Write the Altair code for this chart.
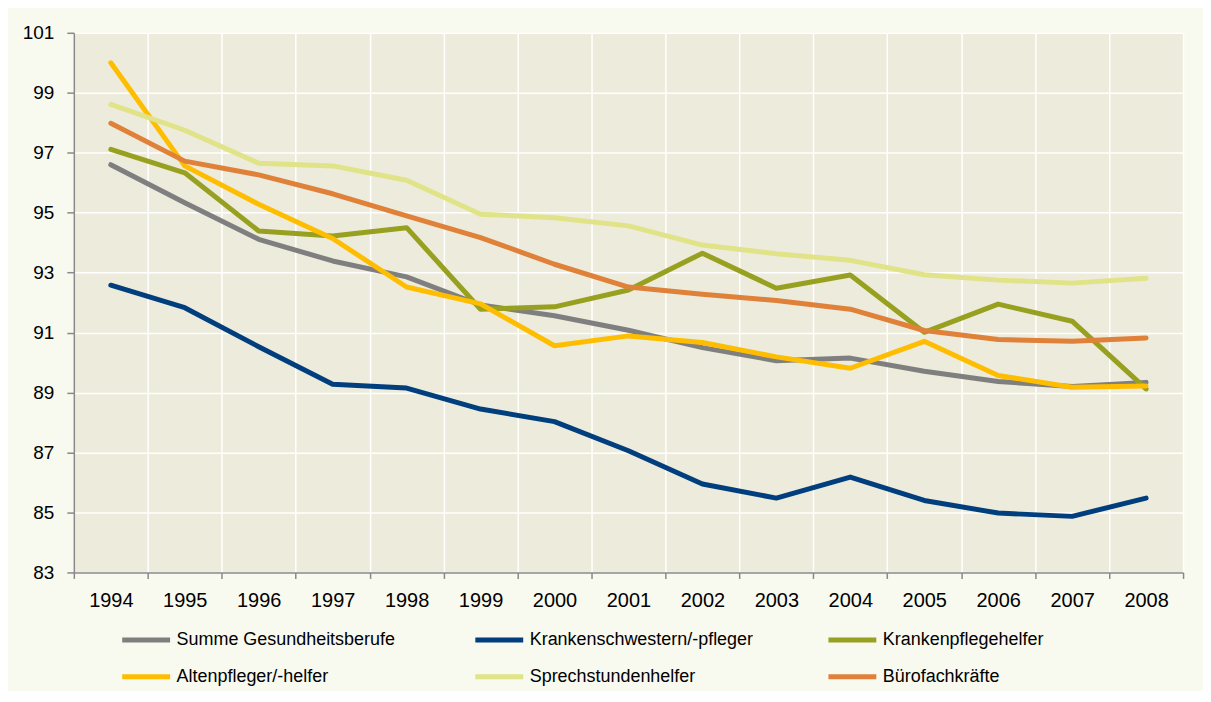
import altair as alt
import pandas as pd

years = list(range(1994, 2009))
series_names = [
    "Summe Gesundheitsberufe",
    "Krankenschwestern/-pfleger",
    "Krankenpflegehelfer",
    "Altenpfleger/-helfer",
    "Sprechstundenhelfer",
    "Bürofachkräfte",
]
summe = [96.60, 95.33, 94.11, 93.39, 92.86, 91.92, 91.56, 91.08, 90.50, 90.06, 90.15, 89.71, 89.37, 89.20, 89.34]
krankenschwestern = [92.58, 91.83, 90.53, 89.28, 89.15, 88.45, 88.03, 87.06, 85.95, 85.48, 86.18, 85.40, 84.98, 84.87, 85.48]
pflegehelfer = [97.11, 96.33, 94.39, 94.22, 94.50, 91.78, 91.86, 92.42, 93.65, 92.48, 92.92, 91.01, 91.95, 91.38, 89.12]
altenpfleger = [100.00, 96.56, 95.28, 94.14, 92.52, 91.96, 90.56, 90.89, 90.67, 90.19, 89.81, 90.71, 89.57, 89.18, 89.22]
sprechstunden = [98.61, 97.75, 96.65, 96.56, 96.08, 94.95, 94.83, 94.56, 93.92, 93.63, 93.41, 92.93, 92.75, 92.65, 92.81]
buero = [97.98, 96.72, 96.26, 95.63, 94.89, 94.17, 93.28, 92.52, 92.28, 92.07, 91.78, 91.07, 90.77, 90.71, 90.82]
colors = ["#7F7F7F", "#003E7E", "#98A01F", "#FFBD00", "#E0E388", "#DF8139"]

y_ticks = list(range(83, 102, 2))

all_series = [summe, krankenschwestern, pflegehelfer, altenpfleger, sprechstunden, buero]
rows = []
for order, (name, vals) in enumerate(zip(series_names, all_series)):
    for yr, v in zip(years, vals):
        rows.append({"Jahr": yr, "Wert": v, "Serie": name, "order": order})
df = pd.DataFrame(rows)

# band edges between the years (for grid lines and tick marks)
edges = [y - 0.5 for y in years] + [years[-1] + 0.5]

font = "Liberation Sans"
x_scale = alt.Scale(domain=[years[0] - 0.5, years[-1] + 0.5], nice=False, zero=False)

base = alt.Chart(df).encode(
    y=alt.Y(
        "Wert:Q",
        scale=alt.Scale(domain=[83, 101], nice=False, zero=False),
        axis=alt.Axis(values=y_ticks, title=None, labelFontSize=19, labelPadding=13, tickSize=7),
    ),
    color=alt.Color(
        "Serie:N",
        scale=alt.Scale(domain=series_names, range=colors),
        legend=alt.Legend(
            title=None,
            orient="none",
            direction="horizontal",
            legendX=46,
            legendY=582,
            columns=3,
            symbolType="stroke",
            symbolSize=2304,
            symbolStrokeWidth=5,
            labelFontSize=18,
            labelFont=font,
            labelLimit=400,
            labelOffset=4,
            gridAlign="all",
            columnPadding=64,
            rowPadding=-11,
            padding=0,
        ),
    ),
    order=alt.Order("order:Q"),
    detail="Serie:N",
)

lines = base.mark_line(strokeWidth=5, strokeCap="round", strokeJoin="round").encode(
    x=alt.X(
        "Jahr:Q",
        scale=x_scale,
        axis=alt.Axis(values=edges, title=None, labels=False, grid=True, tickSize=6, orient="bottom"),
    )
)

year_labels = base.mark_line(strokeOpacity=0).encode(
    x=alt.X(
        "Jahr:Q",
        scale=x_scale,
        axis=alt.Axis(
            values=years,
            title=None,
            format="d",
            grid=False,
            ticks=False,
            domain=False,
            labelFontSize=20,
            labelPadding=18,
            labelOverlap=False,
            orient="bottom",
        ),
    )
)

chart = (
    alt.layer(lines, year_labels)
    .resolve_axis(x="independent")
    .properties(
        width=1112,
        height=541,
        autosize=alt.AutoSizeParams(type="none"),
        padding={"left": 66, "top": 24, "right": 20, "bottom": 118},
        background="#F8F9EF",
    )
    .configure_view(fill="#EDEBDC", stroke=None)
    .configure_axis(
        labelFont=font,
        labelColor="#000000",
        domainColor="#898989",
        domainWidth=1.5,
        tickColor="#898989",
        tickWidth=1.5,
        gridColor="#FFFFFF",
        gridWidth=1.5,
    )
)

chart.save("out.html", embed_options={"renderer": "svg", "actions": False})
